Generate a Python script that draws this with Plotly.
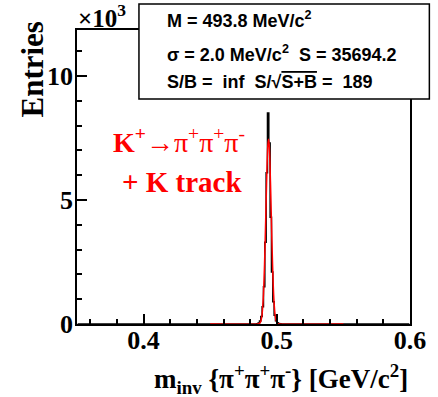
import numpy as np
import plotly.graph_objects as go

# ---- data ----
hist_lo, hist_hi, bin_w = 0.350, 0.600, 0.001
peak_centers = [0.4845, 0.4855, 0.4865, 0.4875, 0.4885, 0.4895, 0.4905, 0.4915,
                0.4925, 0.4935, 0.4945, 0.4955, 0.4965, 0.4975, 0.4985, 0.4995,
                0.5005, 0.5015, 0.5025]
peak_counts = [5, 15, 40, 120, 300, 700, 1500, 3300, 6100, 8500, 7300, 4300,
               2100, 900, 350, 130, 50, 20, 8]

fit_x = [0.450, 0.4858, 0.4868, 0.4878, 0.4888, 0.4898, 0.4903, 0.4908, 0.4913,
         0.4918, 0.4923, 0.4928, 0.4933, 0.4938, 0.4943, 0.4948, 0.4953, 0.4958,
         0.4963, 0.4968, 0.4973, 0.4978, 0.4988, 0.4998, 0.5008, 0.5018, 0.550]
fit_y = [0, 3, 16, 83, 327, 1010, 1615, 2420, 3410, 4520, 5625, 6575, 7220, 7450,
         7220, 6575, 5625, 4520, 3410, 2420, 1615, 1010, 327, 83, 16, 3, 0]

x_ticks = [0.4, 0.5, 0.6]
x_ticktext = ["0.4", "0.5", "0.6"]
y_ticks = [0, 5000, 10000]
y_ticktext = ["0", "5", "10"]

stats_lines = [
    "M = 493.8 MeV/c<sup>2</sup>",
    "σ = 2.0 MeV/c<sup>2</sup>  S = 35694.2",
    "S/B =  inf  S/√<span style='text-decoration:overline'>S+B</span> =  189",
]

# ---- build histogram ----
n_bins = int(round((hist_hi - hist_lo) / bin_w))
centers = np.round(hist_lo + bin_w * (np.arange(n_bins) + 0.5), 4)
counts = np.zeros(n_bins)
for c, v in zip(peak_centers, peak_counts):
    idx = int(np.argmin(np.abs(centers - c)))
    counts[idx] = v

serif = "Liberation Serif"
sans = "Liberation Sans"

fig = go.Figure()
fig.add_trace(go.Scatter(x=centers, y=counts, mode="lines", line_shape="hvh",
                         line=dict(color="black", width=1.5), cliponaxis=False,
                         showlegend=False, hoverinfo="skip"))
fig.add_trace(go.Scatter(x=fit_x, y=fit_y, mode="lines", line_shape="spline",
                         line=dict(color="#ff0000", width=1.5), cliponaxis=False,
                         showlegend=False, hoverinfo="skip"))

W, H = 438, 397
L, R, T, B = 77, 17, 30, 73          # plot area in page pixels
pw, ph = W - L - R, H - T - B

def px(x):
    return (x - L) / pw

def py(y):
    return (H - B - y) / ph

fig.update_layout(
    width=W, height=H,
    margin=dict(l=L, r=R, t=T, b=B, pad=0),
    paper_bgcolor="white", plot_bgcolor="white",
    xaxis=dict(range=[hist_lo, hist_hi], tickvals=x_ticks, ticktext=x_ticktext,
               ticks="inside", ticklen=10, tickwidth=1.5, tickcolor="black",
               showline=True, linecolor="black", linewidth=1.5, mirror=True,
               showgrid=False, zeroline=False, ticklabelstandoff=-8,
               tickfont=dict(family=serif, size=26, color="black", weight="bold"),
               minor=dict(dtick=0.02, tick0=0.4, ticks="inside", ticklen=5,
                          tickwidth=1.5, tickcolor="black", showgrid=False)),
    yaxis=dict(range=[0, 11850], tickvals=y_ticks, ticktext=y_ticktext,
               ticks="inside", ticklen=10, tickwidth=1.5, tickcolor="black",
               showline=True, linecolor="black", linewidth=1.5, mirror=True,
               showgrid=False, zeroline=False, ticklabelstandoff=-3,
               tickfont=dict(family=serif, size=26, color="black", weight="bold"),
               minor=dict(dtick=1000, tick0=0, ticks="inside", ticklen=5,
                          tickwidth=1.5, tickcolor="black", showgrid=False)),
)

# stats box
fig.add_shape(type="rect", xref="paper", yref="paper",
              x0=px(141), x1=px(441), y0=py(99), y1=py(4),
              line=dict(color="black", width=1.5), fillcolor="white", layer="above")

for txt, yy in zip(stats_lines, [20, 54, 82]):
    fig.add_annotation(text=txt, xref="paper", yref="paper", x=px(168), y=py(yy),
                       xanchor="left", yanchor="middle", showarrow=False,
                       font=dict(family=sans, size=18, color="black", weight="bold"))

# x10^3
fig.add_annotation(text="×10<sup>3</sup>", xref="paper", yref="paper", x=px(76), y=py(16),
                   xanchor="left", yanchor="middle", showarrow=False,
                   font=dict(family=serif, size=25, color="black", weight="bold"))

# axis titles
fig.add_annotation(text="m<sub>inv</sub> {π<sup>+</sup>π<sup>+</sup>π<sup>-</sup>} [GeV/c<sup>2</sup>]",
                   xref="paper", yref="paper", x=px(421), y=py(379),
                   xanchor="right", yanchor="middle", showarrow=False,
                   font=dict(family=serif, size=27, color="black", weight="bold"))
fig.add_annotation(text="Entries", xref="paper", yref="paper", x=px(30), y=py(70),
                   xanchor="center", yanchor="middle", textangle=-90, showarrow=False,
                   font=dict(family=serif, size=31, color="black", weight="bold"))

# red label
fig.add_annotation(text="<b>K<sup>+</sup></b>→π<sup>+</sup>π<sup>+</sup>π<sup>-</sup>",
                   xref="paper", yref="paper", x=px(182), y=py(140),
                   xanchor="center", yanchor="middle", showarrow=False,
                   font=dict(family=serif, size=28, color="#ff0000"))
fig.add_annotation(text="+ K track",
                   xref="paper", yref="paper", x=px(185), y=py(182),
                   xanchor="center", yanchor="middle", showarrow=False,
                   font=dict(family=serif, size=29, color="#ff0000", weight="bold"))

fig.write_html("out.html", config={"displayModeBar": False},
               post_script="document.body.style.margin='0px';")
